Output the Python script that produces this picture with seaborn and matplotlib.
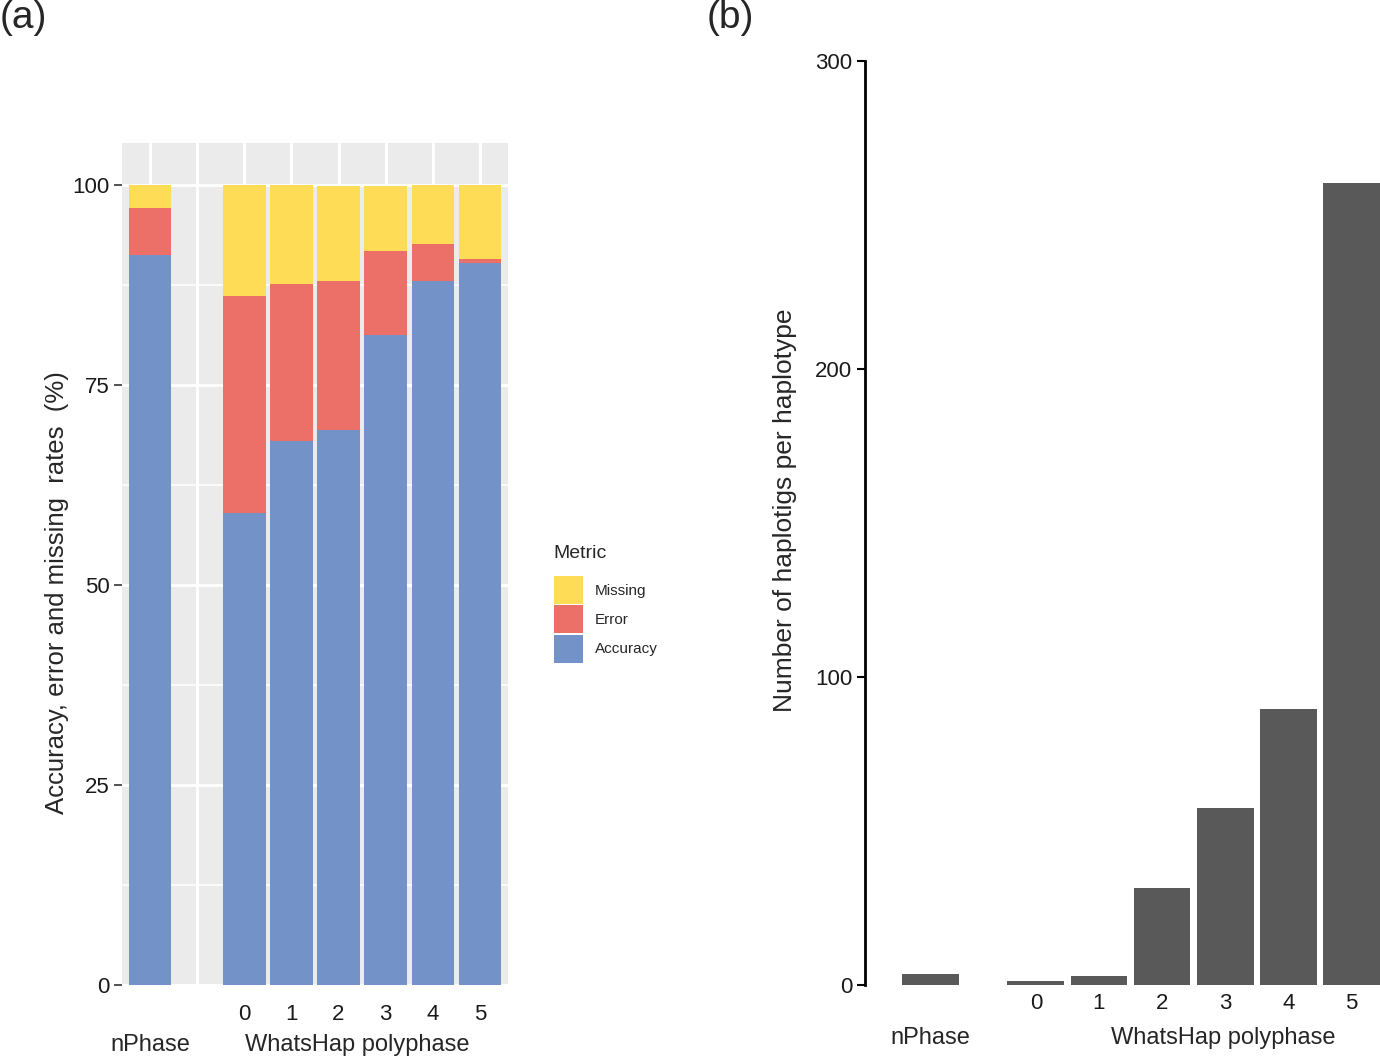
import matplotlib
matplotlib.use("Agg")
import matplotlib.pyplot as plt
import matplotlib.transforms as mtransforms
from matplotlib.patches import Patch
import seaborn as sns
import pandas as pd
import numpy as np

# data
methods = ["nPhase", "0", "1", "2", "3", "4", "5"]
accuracy = [91.2, 59.0, 68.0, 69.4, 81.2, 88.0, 90.2]
error = [5.9, 27.1, 19.6, 18.6, 10.6, 4.6, 0.6]
missing = [2.9, 13.9, 12.4, 11.9, 8.1, 7.4, 9.2]
haplotigs = [3.5, 1.2, 2.8, 31.5, 57.5, 89.5, 260.5]

colors = {"Missing": "#FFDC55", "Error": "#EC7068", "Accuracy": "#7393C8"}

sns.set_theme(style="white")
plt.rcParams["font.family"] = ["Liberation Sans", "DejaVu Sans"]

# layout: nPhase sits apart from the WhatsHap group
pos_a = [0] + [2 + i for i in range(6)]
pos_b = [0] + [1.667 + i for i in range(6)]

df = pd.DataFrame({"method": methods, "pos_a": pos_a, "pos_b": pos_b,
                   "Accuracy": accuracy, "Error": error, "Missing": missing,
                   "haplotigs": haplotigs})
df["acc_err"] = df["Accuracy"] + df["Error"]
df["total"] = df["acc_err"] + df["Missing"]

fig = plt.figure(figsize=(13.8, 10.58), dpi=100)
ax1 = fig.add_axes([122 / 1380, 73 / 1058, 386 / 1380, 842 / 1058])
ax2 = fig.add_axes([865 / 1380, 73 / 1058, 515 / 1380, 924 / 1058])

# ---- panel (a): stacked rates
ax1.set_facecolor("#EBEBEB")
for col, key in [("total", "Missing"), ("acc_err", "Error"), ("Accuracy", "Accuracy")]:
    sns.barplot(data=df, x="pos_a", y=col, native_scale=True, width=0.9,
                color=colors[key], saturation=1, linewidth=0, ax=ax1, zorder=3)
ax1.set_xlim(-0.6, 7.6)
ax1.set_ylim(0, 105.25)
ax1.set_yticks([0, 25, 50, 75, 100])
ax1.set_yticks([12.5, 37.5, 62.5, 87.5], minor=True)
ax1.set_xticks(pos_a[:1] + [1] + pos_a[1:])
ax1.set_xticklabels([""] + [""] + methods[1:])
ax1.grid(True, which="major", color="white", linewidth=2.2, zorder=0)
ax1.grid(True, which="minor", axis="y", color="white", linewidth=1.1, zorder=0)
ax1.set_axisbelow(True)
for s in ax1.spines.values():
    s.set_visible(False)
ax1.tick_params(axis="y", which="major", length=6, width=1.2, color="#333333",
                labelsize=16, labelcolor="#1a1a1a", pad=3, left=True)
ax1.tick_params(axis="y", which="minor", length=0)
ax1.tick_params(axis="x", length=0, labelsize=16, pad=14, labelcolor="#1a1a1a")
ax1.set_xlabel("")
ax1.set_ylabel("Accuracy, error and missing  rates  (%)", fontsize=18.5, va="center")
ax1.yaxis.set_label_coords(-0.168, 0.4656)
tr1 = mtransforms.blended_transform_factory(ax1.transData, ax1.transAxes)
ax1.text(pos_a[0], -0.071, "nPhase", transform=tr1, ha="center", va="center", fontsize=17)
ax1.text(np.mean(pos_a[1:]) - 0.1, -0.071, "WhatsHap polyphase", transform=tr1,
         ha="center", va="center", fontsize=17)

handles = [Patch(facecolor=colors[k], edgecolor="none") for k in ["Missing", "Error", "Accuracy"]]
fig.text(553 / 1380, 1 - 554 / 1058, "Metric", fontsize=14, ha="left", va="center")
leg = fig.legend(handles, ["Missing", "Error", "Accuracy"],
                 loc="upper left", bbox_to_anchor=(551 / 1380, 1 - 573 / 1058),
                 frameon=False, fontsize=11,
                 handlelength=1.9, handleheight=2.45, labelspacing=0.08,
                 handletextpad=0.75, borderaxespad=0, borderpad=0.2)

# ---- panel (b): haplotigs per haplotype
sns.barplot(data=df, x="pos_b", y="haplotigs", native_scale=True, width=0.9,
            color="#595959", saturation=1, linewidth=0, ax=ax2)
ax2.set_xlim(-1.04, 7.12)
ax2.set_ylim(0, 300)
ax2.set_yticks([0, 100, 200, 300])
ax2.set_xticks(pos_b[1:])
ax2.set_xticklabels(methods[1:])
for s in ["top", "right", "bottom"]:
    ax2.spines[s].set_visible(False)
ax2.spines["left"].set_linewidth(2)
ax2.spines["left"].set_color("black")
ax2.tick_params(axis="y", length=6, width=1.5, color="black", labelsize=16,
                labelcolor="#1a1a1a", pad=3, left=True)
ax2.tick_params(axis="x", length=0, labelsize=16, pad=6, labelcolor="#1a1a1a")
ax2.set_xlabel("")
ax2.set_ylabel("Number of haplotigs per haplotype", fontsize=19, va="center")
ax2.yaxis.set_label_coords(-0.155, 0.514)
tr2 = mtransforms.blended_transform_factory(ax2.transData, ax2.transAxes)
ax2.text(pos_b[0], -0.057, "nPhase", transform=tr2, ha="center", va="center", fontsize=17)
ax2.text(4.63, -0.057, "WhatsHap polyphase", transform=tr2,
         ha="center", va="center", fontsize=17)

fig.text(0 / 1380, 1 - 18 / 1058, "(a)", fontsize=28, ha="left", va="center")
fig.text(707 / 1380, 1 - 18 / 1058, "(b)", fontsize=28, ha="left", va="center")

fig.savefig("out.png", dpi=100)
